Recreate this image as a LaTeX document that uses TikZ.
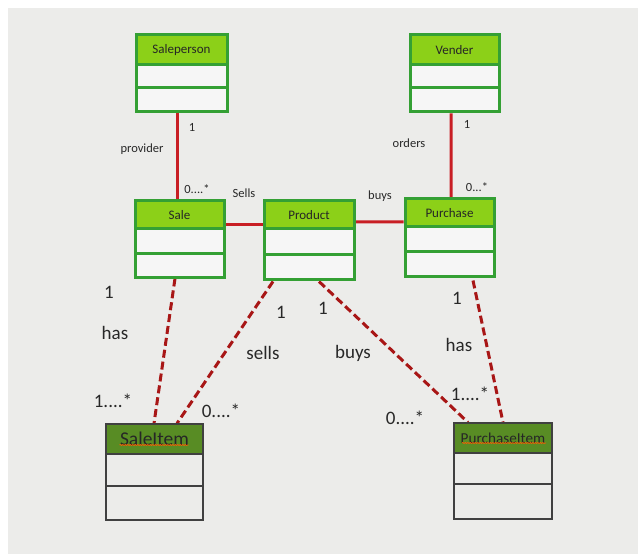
\documentclass[tikz,border=0pt]{standalone}
\usepackage{fontspec}
\setmainfont{Carlito}
\usetikzlibrary{fit,calc,decorations.pathmorphing}
\definecolor{bgray}{RGB}{236,236,234}
\definecolor{lime}{RGB}{140,208,24}
\definecolor{gborder}{RGB}{52,160,52}
\definecolor{olive}{RGB}{88,140,36}
\definecolor{redline}{RGB}{200,30,36}
\definecolor{dashred}{RGB}{168,22,22}
\definecolor{txt}{RGB}{40,40,40}
\pgfdeclarelayer{paper}
\pgfdeclarelayer{back}
\pgfsetlayers{paper,back,main}
\tikzset{
  topbody/.style={fill=white!55!bgray, draw=gborder, line width=3bp, inner sep=0pt},
  tophead/.style={fill=lime, draw=gborder, line width=3bp, inner sep=0pt},
  topdiv/.style={draw=gborder, line width=3bp},
  botbody/.style={fill=bgray, draw=black!75, line width=1.2bp, inner sep=0pt},
  bothead/.style={fill=olive, draw=black!75, line width=1.2bp, inner sep=0pt},
  botdiv/.style={draw=black!75, line width=1.2bp},
  small/.style={font=\fontsize{12.5bp}{14bp}\selectfont, text=txt, inner sep=0pt},
  big/.style={font=\fontsize{19bp}{22bp}\selectfont, text=txt, inner sep=0pt},
  solidrel/.style={draw=redline, line width=3bp},
  dashrel/.style={draw=dashred, line width=3bp, dash pattern=on 8bp off 4bp},
  squiggle/.style={draw=orange!70!red, line width=0.6bp, decorate,
    decoration={snake, amplitude=0.6bp, segment length=2.5bp}},
}
% #1 name, #2 x1, #3 y1, #4 x2, #5 y2, #6 header bottom, #7 divider, #8 title, #9 style prefix
\newcommand\umlclass[9]{%
  \node[#9body, fit={(#2,#3) (#4,#5)}] (#1) {};
  \draw[#9div] (#2,#7) -- (#4,#7);
  \node[#9head, fit={(#2,#3) (#4,#6)}, label={[text=black!85, inner sep=0pt]center:#8}] (#1-h) {};
}
\begin{document}
\begin{tikzpicture}[x=1bp,y=-1bp]
\useasboundingbox (0,0) rectangle (638,554);
\begin{pgfonlayer}{paper}
\fill[white] (0,0) rectangle (638,554);
\fill[bgray] (8,8) rectangle (638,554);
\end{pgfonlayer}

\umlclass{saleperson}{136}{35}{227}{112}{65}{88}{\fontsize{13bp}{15bp}\selectfont Saleperson}{top}
\umlclass{vender}{410}{35}{499}{112}{65}{88}{\fontsize{13bp}{15bp}\selectfont Vender}{top}
\umlclass{sale}{135}{201}{224}{277}{229}{253}{\fontsize{13bp}{15bp}\selectfont Sale}{top}
\umlclass{product}{264}{201}{354}{279}{229}{254}{\fontsize{13bp}{15bp}\selectfont Product}{top}
\umlclass{purchase}{405}{199}{494}{276}{227}{251}{\fontsize{13bp}{15bp}\selectfont Purchase}{top}
\umlclass{saleitem}{106}{424}{203}{520}{454}{486}{\fontsize{19.5bp}{22bp}\selectfont SaleItem}{bot}
\umlclass{purchaseitem}{454}{423}{552}{519}{453}{484}{\fontsize{15.2bp}{18bp}\selectfont PurchaseItem}{bot}

\draw[squiggle] ($(saleitem-h.center)+(-35,6)$) -- ($(saleitem-h.center)+(34,6)$);
\draw[squiggle] ($(purchaseitem-h.center)+(-41,5)$) -- ($(purchaseitem-h.center)+(43,5)$);

\begin{pgfonlayer}{back}
\draw[solidrel] ($(saleperson.south)+(-4.5,0)$) -- ($(sale.north)+(-2.5,0)$);
\draw[solidrel] ($(vender.south)+(-3.5,0)$) -- ($(purchase.north)+(1.5,0)$);
\draw[solidrel] ($(sale.east)+(0,-14)$) -- ($(product.west)+(0,-15)$);
\draw[solidrel] ($(product.east)+(0,-18)$) -- ($(purchase.west)+(0,-15.5)$);
\draw[dashrel] ($(sale.south)+(-4.5,0)$) -- ($(saleitem.north)+(-0.5,0)$);
\draw[dashrel] ($(product.south)+(-36,1)$) -- ($(saleitem.north)+(22.5,0)$);
\draw[dashrel] ($(product.south)+(10,1)$) -- ($(purchaseitem.north)+(-35,0)$);
\draw[dashrel] ($(purchase.south)+(23.5,3)$) -- ($(purchaseitem.north)+(0,0)$);
\end{pgfonlayer}

\node[small] (l1) at (192,127) {1};
\node[small] (l2) at (142,149) {provider};
\node[small] (l3) at (197,189) {0....*};
\node[small] (l4) at (244,193) {Sells};
\node[small] (l5) at (380,196) {buys};
\node[small] (l6) at (409,143) {orders};
\node[small] (l7) at (467,124) {1};
\node[small] (l8) at (477,187) {0...*};

\node[big] (b1) at (109,292) {1};
\node[big] (b2) at (115,333) {has};
\node[big] (b3) at (113,401) {1....*};
\node[big] (b4) at (281,312) {1};
\node[big] (b5) at (263,353) {sells};
\node[big] (b6) at (323,308) {1};
\node[big] (b7) at (353,353) {buys};
\node[big] (b8) at (221,411) {0....*};
\node[big] (b9) at (457,298) {1};
\node[big] (b10) at (459,345) {has};
\node[big] (b11) at (470,394) {1....*};
\node[big] (b12) at (405,418) {0....*};
\end{tikzpicture}
\end{document}
